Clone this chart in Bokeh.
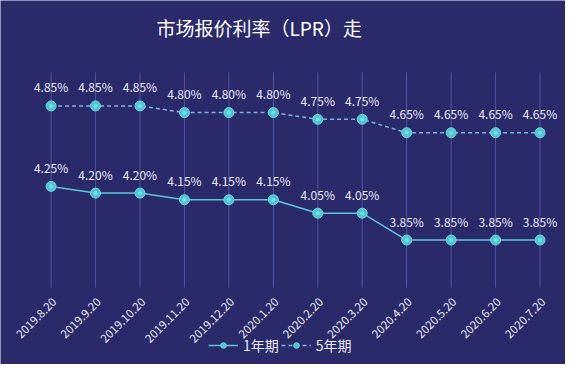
import math
from bokeh.plotting import figure
from bokeh.models import Range1d, Legend, LegendItem, ColumnDataSource, Label
from bokeh.core.properties import value
from bokeh.embed import file_html
from bokeh.resources import INLINE

dates = ["2019.8.20", "2019.9.20", "2019.10.20", "2019.11.20", "2019.12.20", "2020.1.20",
         "2020.2.20", "2020.3.20", "2020.4.20", "2020.5.20", "2020.6.20", "2020.7.20"]
lpr_1y = [4.25, 4.20, 4.20, 4.15, 4.15, 4.15, 4.05, 4.05, 3.85, 3.85, 3.85, 3.85]
lpr_5y = [4.85, 4.85, 4.85, 4.80, 4.80, 4.80, 4.75, 4.75, 4.65, 4.65, 4.65, 4.65]
series_names = ["1年期", "5年期"]
title_text = "市场报价利率（LPR）走"

# axis (value) limits of the plotting area
Y_LO, Y_HI = 3.495, 5.10

FONT = "Noto Sans CJK SC"
BG = "#2a2969"
TXT = "#e8e8f4"

idx = list(range(len(dates)))
src1 = ColumnDataSource(dict(x=idx, y=lpr_1y, lab=["%.2f%%" % v for v in lpr_1y]))
src5 = ColumnDataSource(dict(x=idx, y=lpr_5y, lab=["%.2f%%" % v for v in lpr_5y]))
srcx = ColumnDataSource(dict(x=idx, lo=[Y_LO] * len(idx), hi=[Y_HI] * len(idx), lab=dates))

p = figure(width=565, height=364, x_range=Range1d(-1.138, 11.573),
           y_range=Range1d(2.922, 5.636), output_backend="svg", toolbar_location=None,
           min_border=0)
p.background_fill_color = BG
p.border_fill_color = BG
p.outline_line_color = None
p.xaxis.visible = False
p.yaxis.visible = False
p.grid.visible = False

# vertical category split lines
p.segment("x", "lo", "x", "hi", source=srcx, line_color="#4f56a2", line_width=1)
# category labels
p.text("x", "lo", text="lab", source=srcx, angle=math.pi / 4, x_offset=3, y_offset=12,
       text_align="right", text_baseline="middle", text_color=TXT,
       text_font=value(FONT), text_font_size="11.5px")

p.add_layout(Label(x=156, y=364 - 27, x_units="screen", y_units="screen", text=title_text,
                   text_font=FONT, text_font_size="19px", text_color="#ffffff",
                   text_baseline="middle", text_align="left"))

l5 = p.line("x", "y", source=src5, line_color="#7cb6e6", line_width=1.5, line_dash="4 3")
l1 = p.line("x", "y", source=src1, line_color="#5cc6da", line_width=1.5)
m5 = p.scatter("x", "y", source=src5, size=10, fill_color="#4fc6d1", line_color="#6fd6de", line_width=1)
m1 = p.scatter("x", "y", source=src1, size=10, fill_color="#4fc6d1", line_color="#6fd6de", line_width=1)
# soft highlight in marker centres
p.scatter("x", "y", source=src5, size=4, fill_color="#8fe4ea", line_color=None, fill_alpha=0.7)
p.scatter("x", "y", source=src1, size=4, fill_color="#8fe4ea", line_color=None, fill_alpha=0.7)

for s in (src1, src5):
    p.text("x", "y", text="lab", source=s, y_offset=-19, text_align="center", text_baseline="middle",
           text_color=TXT, text_font=value(FONT), text_font_size="12px")

legend = Legend(items=[LegendItem(label=series_names[0], renderers=[l1, m1]),
                       LegendItem(label=series_names[1], renderers=[l5, m5])],
                orientation="horizontal", location=(208, 9), background_fill_alpha=0,
                border_line_color=None, glyph_width=30, glyph_height=14, label_text_color=TXT,
                label_text_font=FONT, label_text_font_size="14px", spacing=2, padding=2, margin=0,
                label_standoff=5, label_height=16)
p.add_layout(legend, "center")

open("out.html", "w").write(file_html(p, INLINE))
